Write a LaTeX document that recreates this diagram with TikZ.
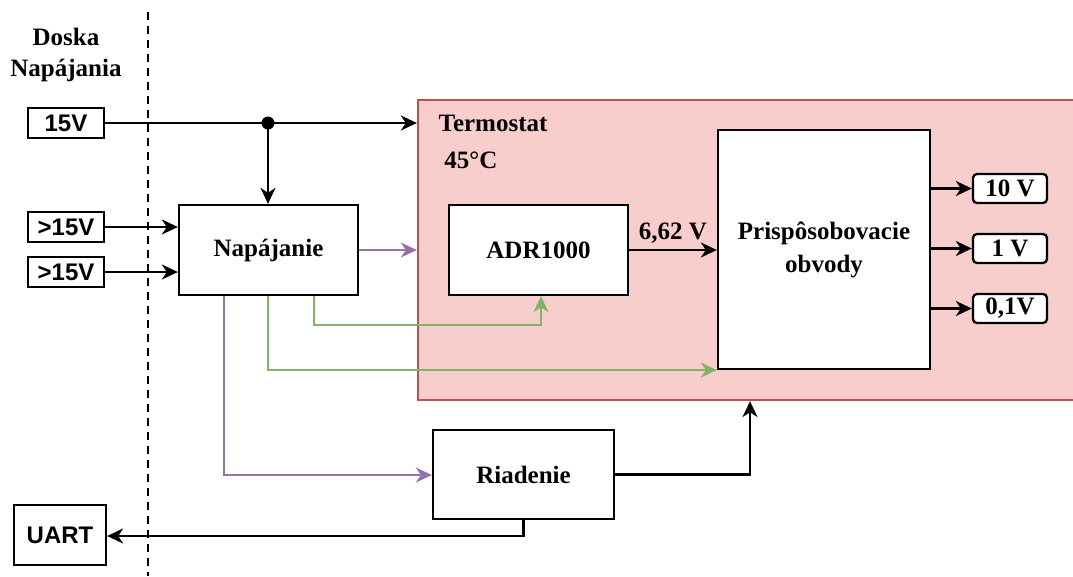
\documentclass[tikz,border=0pt]{standalone}
\usepackage{fontspec}
\setmainfont{Liberation Serif}
\newfontfamily\arialf{Liberation Sans}
\usetikzlibrary{arrows.meta}
\definecolor{termfill}{HTML}{F8CECC}
\definecolor{termdraw}{HTML}{B85450}
\definecolor{grn}{HTML}{82B366}
\definecolor{prp}{HTML}{9673A6}
\begin{document}
\begin{tikzpicture}[x=1pt,y=-1pt,
  txt/.style={font=\fontsize{25}{28}\selectfont\bfseries, inner sep=0pt},
  box/.style={draw=black, line width=2.3pt, fill=white, font=\fontsize{25}{28}\selectfont\bfseries, align=center, inner sep=0pt},
  sbox/.style={draw=black, line width=2.3pt, fill=white, font=\arialf\fontsize{24}{26}\selectfont\bfseries, inner sep=0pt, minimum width=76pt, minimum height=30pt},
  obox/.style={draw=black, line width=2.3pt, fill=white, rounded corners=4pt, font=\fontsize{25}{28}\selectfont\bfseries, inner sep=0pt, minimum width=74pt, minimum height=29pt},
  conn/.style={line width=2.3pt, -{Stealth[length=16pt,width=15pt,inset=5pt]}},
  gconn/.style={conn, draw=grn, -{Stealth[length=16pt,width=15pt,inset=5pt,fill=grn]}},
  pconn/.style={conn, draw=prp, -{Stealth[length=16pt,width=15pt,inset=5pt,fill=prp]}}
]
\useasboundingbox (0,0) rectangle (1073,576);
% dashed separator
\coordinate (dtop) at (148,12);
\coordinate (dbot) at (148,576);
\draw[line width=2.3pt, dash pattern=on 8pt off 6pt] (dtop) -- (dbot);
\node[txt, align=center] (doska) at (66,55) {Doska\\[3pt]Napájania};

% termostat
\node[draw=termdraw, fill=termfill, line width=2.3pt, minimum width=658pt, minimum height=300pt, inner sep=0pt] (term) at (747,250) {};
\node[txt] (termt) at (493,123) {Termostat};
\node[txt] (temp) at (471,160) {45°C};

% inputs
\node[sbox] (v15) at (66,123) {15V};
\node[sbox] (g15a) at (66,227) {>15V};
\node[sbox] (g15b) at (66,272) {>15V};

% main boxes
\node[box, minimum width=179pt, minimum height=90pt] (nap) at (268.5,250) {Napájanie};
\node[box, minimum width=179pt, minimum height=90pt] (adr) at (538.5,250) {ADR1000};
\node[box, minimum width=212pt, minimum height=239pt] (prisp) at (824,249.5) {};
\node[txt, align=center] (prispt) at (824,250) {Prispôsobovacie\\[5pt]obvody};
\node[box, minimum width=181pt, minimum height=89pt] (ria) at (523.5,474.5) {Riadenie};
\node[box, font=\arialf\fontsize{24}{26}\selectfont\bfseries, minimum width=92pt, minimum height=60pt] (uart) at (60,535) {UART};

% outputs
\node[obox] (o10) at (1010,188.5) {10 V};
\node[obox] (o1) at (1010,248.5) {1 V};
\node[obox] (o01) at (1010,308.5) {0,1V};

% connectors
\coordinate (j) at (268,123);
\draw[conn] (v15.east) -- (v15.east -| term.west);
\fill (j) circle (6.5pt);
\draw[conn] (j) -- (j |- nap.north);
\draw[conn] (g15a.east) -- (g15a.east -| nap.west);
\draw[conn] (g15b.east) -- (g15b.east -| nap.west);
\draw[pconn] (nap.east) -- (nap.east -| term.west);
\draw[conn] (adr.east) -- node[txt, above=5pt] (lbl) {6,62 V} (adr.east -| prisp.west);
\draw[conn] (o10.west -| prisp.east) -- (o10.west);
\draw[conn] (o1.west -| prisp.east) -- (o1.west);
\draw[conn] (o01.west -| prisp.east) -- (o01.west);

\coordinate (g1) at (314,325);
\coordinate (g1e) at (541,325);
\draw[gconn] (g1 |- nap.south) -- (g1) -- (g1e) -- (g1e |- adr.south);
\coordinate (g2) at (268,370);
\draw[gconn] (g2 |- nap.south) -- (g2) -- (g2 -| prisp.west);
\coordinate (p2) at (224,475);
\draw[pconn] (p2 |- nap.south) -- (p2) -- (p2 -| ria.west);
\coordinate (r1) at (750,474.5);
\draw[conn] (ria.east) -- (r1) -- (r1 |- term.south);
\coordinate (u1) at (523.5,536);
\draw[conn] (ria.south) -- (u1) -- (u1 -| uart.east);
\end{tikzpicture}
\end{document}
